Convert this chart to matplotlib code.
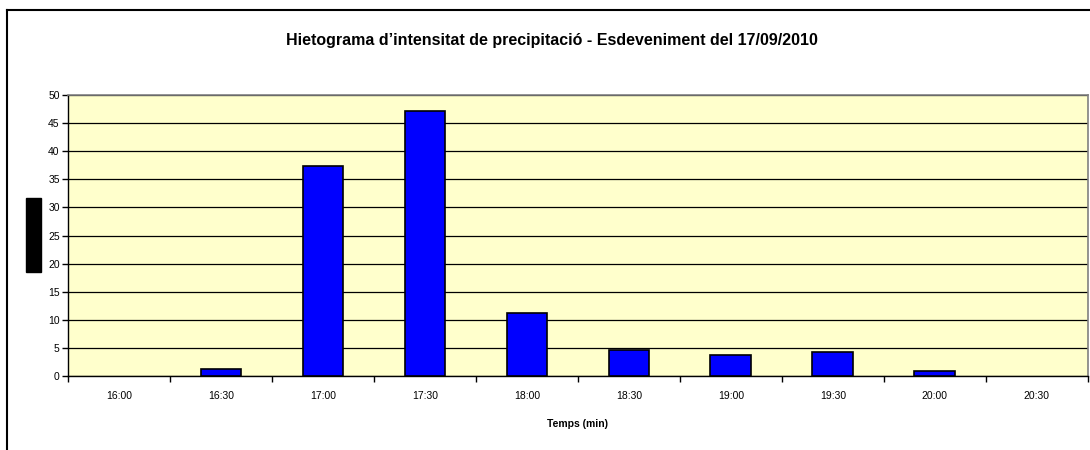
import matplotlib
matplotlib.use("Agg")
import matplotlib.pyplot as plt
from matplotlib.lines import Line2D
from matplotlib.patches import Rectangle
import numpy as np

plt.rcParams['font.family'] = ['Liberation Sans', 'DejaVu Sans']

hores = ["16:00", "16:30", "17:00", "17:30", "18:00",
         "18:30", "19:00", "19:30", "20:00", "20:30"]
intensitat = [0, 1.2, 37.4, 47.2, 11.3, 4.6, 3.7, 4.3, 0.9, 0]

fig = plt.figure(figsize=(10.9, 4.5), dpi=100)
ax = fig.add_axes([0.0624, 0.1644, 0.9356, 0.6245])

x = np.arange(len(hores))
ax.set_facecolor("#FFFFCC")
ax.set_axisbelow(True)
ax.yaxis.grid(True, color="black", linewidth=0.9)
# les barres de valor zero no es dibuixen
vores = [1.2 if v > 0 else 0 for v in intensitat]
ax.bar(x, intensitat, width=0.4, color="#0000FF", edgecolor="black", linewidth=vores, zorder=3)

ax.set_xlim(-0.5, len(hores) - 0.5)
ax.set_ylim(0, 50)
ax.set_yticks(np.arange(0, 51, 5))
ax.set_xticks(x)
ax.set_xticklabels(hores)
ax.set_xticks(np.arange(-0.5, len(hores)), minor=True)
ax.tick_params(axis="x", which="major", length=0, labelsize=7.5, pad=11)
ax.tick_params(axis="x", which="minor", length=4, width=1, direction="out")
ax.tick_params(axis="y", length=4, width=1, direction="out", labelsize=7.5, pad=2)

for s in ["top", "right"]:
    ax.spines[s].set_color("#808080")
    ax.spines[s].set_linewidth(1.2)
for s in ["left", "bottom"]:
    ax.spines[s].set_color("black")
    ax.spines[s].set_linewidth(1.0)

ax.set_xlabel("Temps (min)", fontsize=7.5, fontweight="bold", labelpad=13)
fig.text(0.506, 0.911, "Hietograma d\u2019intensitat de precipitació - Esdeveniment del 17/09/2010",
         ha="center", va="center", fontsize=11.5, fontweight="bold")

# rectangle negre de l'etiqueta de l'eix Y
fig.patches.append(Rectangle((26 / 1090, 1 - 272 / 450), 15 / 1090, 74 / 450,
                             transform=fig.transFigure, color="black"))

# marc exterior del gràfic
fig.lines.append(Line2D([7 / 1090, 7 / 1090], [0, 1 - 10 / 450],
                        transform=fig.transFigure, color="black", linewidth=1.5))
fig.lines.append(Line2D([7 / 1090, 1], [1 - 10 / 450, 1 - 10 / 450],
                        transform=fig.transFigure, color="black", linewidth=1.5))

fig.savefig("out.png", dpi=100)
